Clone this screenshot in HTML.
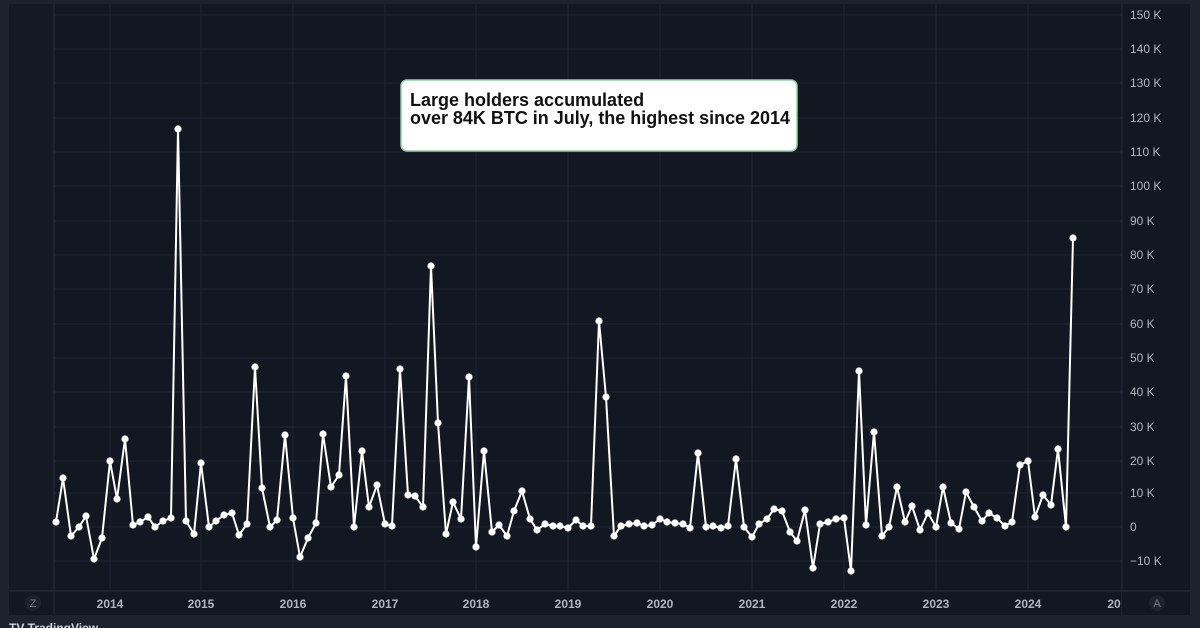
<!DOCTYPE html>
<html><head><meta charset="utf-8"><style>
html,body{margin:0;padding:0;background:#1e222d;width:1200px;height:628px;overflow:hidden}
svg{display:block}
</style></head><body>
<svg width="1200" height="628" xmlns="http://www.w3.org/2000/svg" font-family="Liberation Sans, sans-serif">
<rect x="0" y="0" width="1200" height="628" fill="#1e222d"/>
<rect x="9" y="4" width="1181" height="611" fill="#131722"/>
<rect x="9" y="4" width="45" height="587" fill="#151924"/>
<g stroke="#222632" stroke-width="1">
<line x1="54" y1="15" x2="1122" y2="15"/><line x1="54" y1="49" x2="1122" y2="49"/><line x1="54" y1="83" x2="1122" y2="83"/><line x1="54" y1="118" x2="1122" y2="118"/><line x1="54" y1="152" x2="1122" y2="152"/><line x1="54" y1="186" x2="1122" y2="186"/><line x1="54" y1="221" x2="1122" y2="221"/><line x1="54" y1="255" x2="1122" y2="255"/><line x1="54" y1="289" x2="1122" y2="289"/><line x1="54" y1="324" x2="1122" y2="324"/><line x1="54" y1="358" x2="1122" y2="358"/><line x1="54" y1="392" x2="1122" y2="392"/><line x1="54" y1="427" x2="1122" y2="427"/><line x1="54" y1="461" x2="1122" y2="461"/><line x1="54" y1="493" x2="1122" y2="493"/><line x1="54" y1="527" x2="1122" y2="527"/><line x1="54" y1="561" x2="1122" y2="561"/>
<line x1="110" y1="4" x2="110" y2="591"/><line x1="201" y1="4" x2="201" y2="591"/><line x1="293" y1="4" x2="293" y2="591"/><line x1="385" y1="4" x2="385" y2="591"/><line x1="476" y1="4" x2="476" y2="591"/><line x1="568" y1="4" x2="568" y2="591"/><line x1="660" y1="4" x2="660" y2="591"/><line x1="752" y1="4" x2="752" y2="591"/><line x1="844" y1="4" x2="844" y2="591"/><line x1="936" y1="4" x2="936" y2="591"/><line x1="1028" y1="4" x2="1028" y2="591"/>
</g>
<g stroke="#2a2e39" stroke-width="1">
<line x1="54" y1="4" x2="54" y2="615"/>
<line x1="1122" y1="4" x2="1122" y2="615"/>
<line x1="9" y1="591" x2="1190" y2="591"/>
</g>
<g fill="#b2b5be" font-size="12" text-anchor="start">
<text x="1130" y="19">150 K</text><text x="1130" y="53">140 K</text><text x="1130" y="87">130 K</text><text x="1130" y="122">120 K</text><text x="1130" y="156">110 K</text><text x="1130" y="190">100 K</text><text x="1130" y="225">90 K</text><text x="1130" y="259">80 K</text><text x="1130" y="293">70 K</text><text x="1130" y="328">60 K</text><text x="1130" y="362">50 K</text><text x="1130" y="396">40 K</text><text x="1130" y="431">30 K</text><text x="1130" y="465">20 K</text><text x="1130" y="497">10 K</text><text x="1130" y="531">0</text><text x="1130" y="565">−10 K</text>
</g>
<g fill="#b2b5be" font-size="12" font-weight="bold" text-anchor="middle">
<text x="110" y="608">2014</text><text x="201" y="608">2015</text><text x="293" y="608">2016</text><text x="385" y="608">2017</text><text x="476" y="608">2018</text><text x="568" y="608">2019</text><text x="660" y="608">2020</text><text x="752" y="608">2021</text><text x="844" y="608">2022</text><text x="936" y="608">2023</text><text x="1028" y="608">2024</text><text x="1114" y="608">20</text>
</g>
<rect x="1122" y="592" width="68" height="22" fill="#131722"/>
<circle cx="33" cy="603" r="8" fill="#1e222d"/><text x="33" y="607" fill="#787b86" font-size="11" text-anchor="middle">Z</text>
<circle cx="1157" cy="603" r="8" fill="#1e222d"/><text x="1157" y="607" fill="#787b86" font-size="11" text-anchor="middle">A</text>
<text x="9" y="632" fill="#d1d4dc" font-size="12" font-weight="bold">TV TradingView</text>
<polyline fill="none" stroke="#ffffff" stroke-width="2" stroke-linejoin="round" points="56,522 63,478 71,536 79,527 86,516 94,559 102,538 110,461 117,499 125,439 133,525 140,522 148,517 155,527 163,521 171,518 178,129 186,521 194,534 201,463 209,527 216,521 224,515 232,513 239,535 247,524 255,367 262,488 270,527 277,520 285,435 293,518 300,557 308,538 316,523 323,434 331,487 339,475 346,376 354,527 362,451 369,507 377,485 385,524 392,526 400,369 408,495 415,496 423,507 431,266 438,423 446,534 453,502 461,519 469,377 476,547 484,451 492,532 499,525 507,536 514,511 522,491 530,519 537,530 545,524 553,526 560,526 568,528 576,520 583,526 591,526 599,321 606,397 614,536 621,526 629,524 637,523 644,526 652,525 660,519 667,522 675,523 683,524 690,528 698,453 706,527 713,526 721,528 728,526 736,459 744,527 752,537 759,524 767,519 774,509 782,511 790,532 797,541 805,510 813,568 820,524 828,522 836,519 844,518 851,571 859,371 866,525 874,432 882,536 889,527 897,487 905,522 912,506 920,530 928,513 936,527 943,487 951,523 959,529 966,492 974,507 982,521 989,513 997,518 1005,526 1012,522 1020,465 1028,461 1035,517 1043,495 1051,505 1058,449 1066,527 1073,238"/>
<g fill="#ffffff">
<circle cx="56" cy="522" r="3.6"/><circle cx="63" cy="478" r="3.6"/><circle cx="71" cy="536" r="3.6"/><circle cx="79" cy="527" r="3.6"/><circle cx="86" cy="516" r="3.6"/><circle cx="94" cy="559" r="3.6"/><circle cx="102" cy="538" r="3.6"/><circle cx="110" cy="461" r="3.6"/><circle cx="117" cy="499" r="3.6"/><circle cx="125" cy="439" r="3.6"/><circle cx="133" cy="525" r="3.6"/><circle cx="140" cy="522" r="3.6"/><circle cx="148" cy="517" r="3.6"/><circle cx="155" cy="527" r="3.6"/><circle cx="163" cy="521" r="3.6"/><circle cx="171" cy="518" r="3.6"/><circle cx="178" cy="129" r="3.6"/><circle cx="186" cy="521" r="3.6"/><circle cx="194" cy="534" r="3.6"/><circle cx="201" cy="463" r="3.6"/><circle cx="209" cy="527" r="3.6"/><circle cx="216" cy="521" r="3.6"/><circle cx="224" cy="515" r="3.6"/><circle cx="232" cy="513" r="3.6"/><circle cx="239" cy="535" r="3.6"/><circle cx="247" cy="524" r="3.6"/><circle cx="255" cy="367" r="3.6"/><circle cx="262" cy="488" r="3.6"/><circle cx="270" cy="527" r="3.6"/><circle cx="277" cy="520" r="3.6"/><circle cx="285" cy="435" r="3.6"/><circle cx="293" cy="518" r="3.6"/><circle cx="300" cy="557" r="3.6"/><circle cx="308" cy="538" r="3.6"/><circle cx="316" cy="523" r="3.6"/><circle cx="323" cy="434" r="3.6"/><circle cx="331" cy="487" r="3.6"/><circle cx="339" cy="475" r="3.6"/><circle cx="346" cy="376" r="3.6"/><circle cx="354" cy="527" r="3.6"/><circle cx="362" cy="451" r="3.6"/><circle cx="369" cy="507" r="3.6"/><circle cx="377" cy="485" r="3.6"/><circle cx="385" cy="524" r="3.6"/><circle cx="392" cy="526" r="3.6"/><circle cx="400" cy="369" r="3.6"/><circle cx="408" cy="495" r="3.6"/><circle cx="415" cy="496" r="3.6"/><circle cx="423" cy="507" r="3.6"/><circle cx="431" cy="266" r="3.6"/><circle cx="438" cy="423" r="3.6"/><circle cx="446" cy="534" r="3.6"/><circle cx="453" cy="502" r="3.6"/><circle cx="461" cy="519" r="3.6"/><circle cx="469" cy="377" r="3.6"/><circle cx="476" cy="547" r="3.6"/><circle cx="484" cy="451" r="3.6"/><circle cx="492" cy="532" r="3.6"/><circle cx="499" cy="525" r="3.6"/><circle cx="507" cy="536" r="3.6"/><circle cx="514" cy="511" r="3.6"/><circle cx="522" cy="491" r="3.6"/><circle cx="530" cy="519" r="3.6"/><circle cx="537" cy="530" r="3.6"/><circle cx="545" cy="524" r="3.6"/><circle cx="553" cy="526" r="3.6"/><circle cx="560" cy="526" r="3.6"/><circle cx="568" cy="528" r="3.6"/><circle cx="576" cy="520" r="3.6"/><circle cx="583" cy="526" r="3.6"/><circle cx="591" cy="526" r="3.6"/><circle cx="599" cy="321" r="3.6"/><circle cx="606" cy="397" r="3.6"/><circle cx="614" cy="536" r="3.6"/><circle cx="621" cy="526" r="3.6"/><circle cx="629" cy="524" r="3.6"/><circle cx="637" cy="523" r="3.6"/><circle cx="644" cy="526" r="3.6"/><circle cx="652" cy="525" r="3.6"/><circle cx="660" cy="519" r="3.6"/><circle cx="667" cy="522" r="3.6"/><circle cx="675" cy="523" r="3.6"/><circle cx="683" cy="524" r="3.6"/><circle cx="690" cy="528" r="3.6"/><circle cx="698" cy="453" r="3.6"/><circle cx="706" cy="527" r="3.6"/><circle cx="713" cy="526" r="3.6"/><circle cx="721" cy="528" r="3.6"/><circle cx="728" cy="526" r="3.6"/><circle cx="736" cy="459" r="3.6"/><circle cx="744" cy="527" r="3.6"/><circle cx="752" cy="537" r="3.6"/><circle cx="759" cy="524" r="3.6"/><circle cx="767" cy="519" r="3.6"/><circle cx="774" cy="509" r="3.6"/><circle cx="782" cy="511" r="3.6"/><circle cx="790" cy="532" r="3.6"/><circle cx="797" cy="541" r="3.6"/><circle cx="805" cy="510" r="3.6"/><circle cx="813" cy="568" r="3.6"/><circle cx="820" cy="524" r="3.6"/><circle cx="828" cy="522" r="3.6"/><circle cx="836" cy="519" r="3.6"/><circle cx="844" cy="518" r="3.6"/><circle cx="851" cy="571" r="3.6"/><circle cx="859" cy="371" r="3.6"/><circle cx="866" cy="525" r="3.6"/><circle cx="874" cy="432" r="3.6"/><circle cx="882" cy="536" r="3.6"/><circle cx="889" cy="527" r="3.6"/><circle cx="897" cy="487" r="3.6"/><circle cx="905" cy="522" r="3.6"/><circle cx="912" cy="506" r="3.6"/><circle cx="920" cy="530" r="3.6"/><circle cx="928" cy="513" r="3.6"/><circle cx="936" cy="527" r="3.6"/><circle cx="943" cy="487" r="3.6"/><circle cx="951" cy="523" r="3.6"/><circle cx="959" cy="529" r="3.6"/><circle cx="966" cy="492" r="3.6"/><circle cx="974" cy="507" r="3.6"/><circle cx="982" cy="521" r="3.6"/><circle cx="989" cy="513" r="3.6"/><circle cx="997" cy="518" r="3.6"/><circle cx="1005" cy="526" r="3.6"/><circle cx="1012" cy="522" r="3.6"/><circle cx="1020" cy="465" r="3.6"/><circle cx="1028" cy="461" r="3.6"/><circle cx="1035" cy="517" r="3.6"/><circle cx="1043" cy="495" r="3.6"/><circle cx="1051" cy="505" r="3.6"/><circle cx="1058" cy="449" r="3.6"/><circle cx="1066" cy="527" r="3.6"/><circle cx="1073" cy="238" r="3.6"/>
</g>
<rect x="401" y="80" width="396" height="71" rx="6" fill="#ffffff" stroke="#8fd19e" stroke-width="1.5"/>
<text x="410" y="106" font-size="18" font-weight="bold" fill="#111111">Large holders accumulated</text>
<text x="410" y="124" font-size="18" font-weight="bold" fill="#111111" textLength="380" lengthAdjust="spacingAndGlyphs">over 84K BTC in July, the highest since 2014</text>
</svg>
</body></html>
